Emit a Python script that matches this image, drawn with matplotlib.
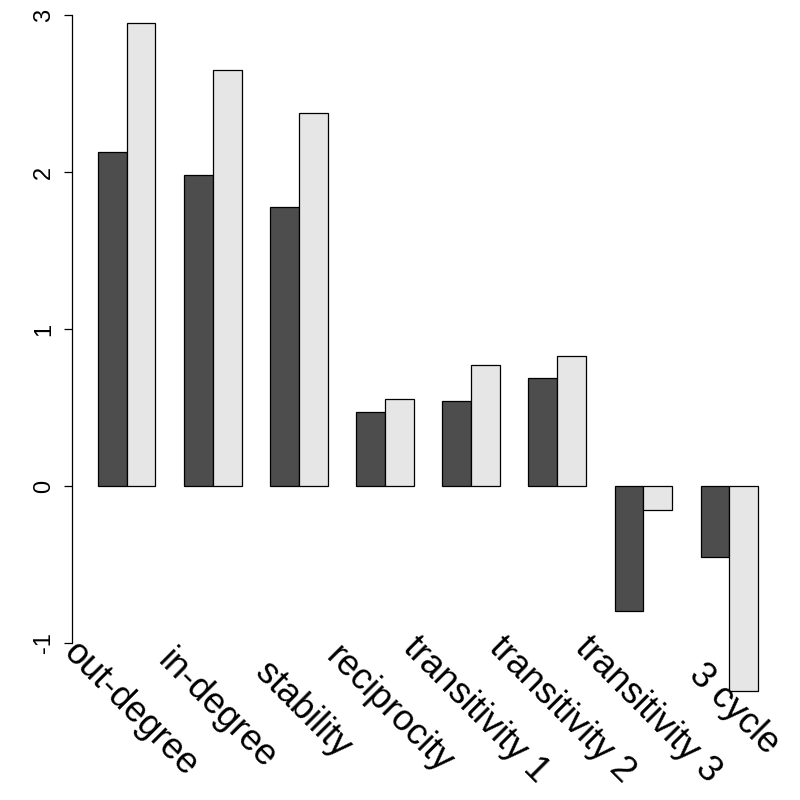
import matplotlib
matplotlib.use("Agg")
import matplotlib.pyplot as plt
import numpy as np

plt.rcParams['font.family'] = ['Liberation Sans', 'DejaVu Sans']

categories = ["out-degree", "in-degree", "stability", "reciprocity",
              "transitivity 1", "transitivity 2", "transitivity 3", "3 cycle"]
series_dark = [2.127, 1.981, 1.777, 0.471, 0.541, 0.688, -0.796, -0.452]
series_light = [2.949, 2.650, 2.376, 0.554, 0.771, 0.828, -0.153, -1.306]
yticks = [-1, 0, 1, 2, 3]

fig = plt.figure(figsize=(8, 8), dpi=100)
ax = fig.add_axes([71.6/800, (800-717.7)/800, (784.5-71.6)/800, (717.7-0.9)/800])

n = len(categories)
left_dark = np.arange(n) * 3 + 1
left_light = left_dark + 1
ax.bar(left_dark, series_dark, width=1, align='edge', color='#4d4d4d',
       edgecolor='black', linewidth=0.9)
ax.bar(left_light, series_light, width=1, align='edge', color='#e6e6e6',
       edgecolor='black', linewidth=0.9)

ax.set_xlim(0.08, 24.92)
ax.set_ylim(-1.476, 3.09)
for s in ['top', 'right', 'bottom']:
    ax.spines[s].set_visible(False)
ax.spines['left'].set_bounds(-1, 3)
ax.spines['left'].set_linewidth(0.9)
ax.set_xticks([])
ax.set_yticks(yticks)
ax.set_yticklabels([str(v) for v in yticks], rotation=90, va='center')
ax.tick_params(axis='y', length=6, width=0.9, pad=6, labelsize=17)

centers = left_dark + 1
for c, lab in zip(centers, categories):
    ax.text(c + 0.15, -1.425, lab, rotation=-45, rotation_mode='anchor',
            ha='center', va='center', fontsize=26)

fig.savefig("out.png", dpi=100)
